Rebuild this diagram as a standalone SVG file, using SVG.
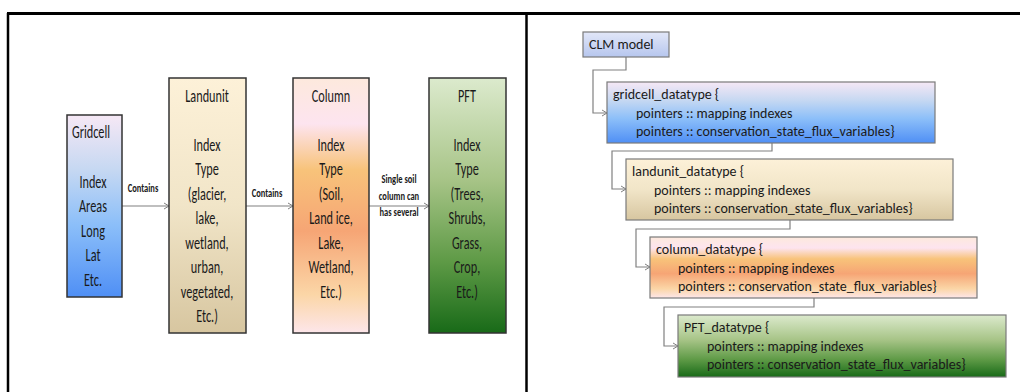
<svg xmlns="http://www.w3.org/2000/svg" width="1020" height="392" viewBox="0 0 1020 392">
<style>
.t{font-family:Carlito,"Liberation Sans",sans-serif;font-size:14px;fill:#1a1a1a}
.L{font-family:Carlito,"Liberation Sans",sans-serif;font-size:18px;fill:#1a1a1a;text-anchor:middle}
.s{font-family:Carlito,"Liberation Sans",sans-serif;font-size:12.5px;font-weight:bold;fill:#1a1a1a;text-anchor:middle}
.bx{stroke:#333;stroke-width:1.5}
.rb{stroke:#7a7a7a;stroke-width:1.2}
.c{fill:none;stroke:#808080;stroke-width:1.2}
</style>
<defs>
<marker id="ar" markerWidth="8" markerHeight="8" refX="6" refY="4" orient="auto" markerUnits="userSpaceOnUse">
<path d="M1,1 L6,4 L1,7" fill="none" stroke="#808080" stroke-width="1"/>
</marker>
<linearGradient id="gB" x1="0" y1="0" x2="0" y2="1">
<stop offset="0" stop-color="#f6e8f5"/><stop offset="0.3" stop-color="#c6d8f2"/><stop offset="0.6" stop-color="#8cbff9"/><stop offset="1" stop-color="#4f8ff5"/>
</linearGradient>
<linearGradient id="gT" x1="0" y1="0" x2="0" y2="1">
<stop offset="0" stop-color="#fdf1d8"/><stop offset="0.5" stop-color="#f1e5c8"/><stop offset="1" stop-color="#d7c6a0"/>
</linearGradient>
<linearGradient id="gO" x1="0" y1="0" x2="0" y2="1">
<stop offset="0" stop-color="#fde9dd"/><stop offset="0.18" stop-color="#fde4ef"/><stop offset="0.36" stop-color="#f8c37a"/><stop offset="0.6" stop-color="#f6a575"/><stop offset="0.85" stop-color="#fbd6a7"/><stop offset="1" stop-color="#fde6ea"/>
</linearGradient>
<linearGradient id="gG" x1="0" y1="0" x2="0" y2="1">
<stop offset="0" stop-color="#dceacd"/><stop offset="0.4" stop-color="#a7c487"/><stop offset="0.72" stop-color="#5e9a46"/><stop offset="1" stop-color="#186a18"/>
</linearGradient>
<linearGradient id="gC" x1="0" y1="0" x2="0" y2="1">
<stop offset="0" stop-color="#e2e7f8"/><stop offset="1" stop-color="#b6c6ee"/>
</linearGradient>
</defs>
<rect width="1020" height="392" fill="#fff"/>
<g id="frame">
<line x1="7" y1="13.5" x2="1020" y2="13.5" stroke="#000" stroke-width="3"/>
<line x1="8" y1="13" x2="8" y2="392" stroke="#000" stroke-width="2.5"/>
<line x1="526.5" y1="13" x2="526.5" y2="392" stroke="#000" stroke-width="2.5"/>
</g>
<g id="connectors">
<line class="c" x1="122" y1="206" x2="169" y2="206" marker-end="url(#ar)"/>
<line class="c" x1="246" y1="206" x2="293" y2="206" marker-end="url(#ar)"/>
<line class="c" x1="369" y1="206" x2="429" y2="206" marker-end="url(#ar)"/>
<polyline class="c" points="626,57 626,70 593,70 593,113 607,113" marker-end="url(#ar)"/>
<polyline class="c" points="772,143 772,151 612,151 612,189 626,189" marker-end="url(#ar)"/>
<polyline class="c" points="790,220 790,229 636,229 636,267 650,267" marker-end="url(#ar)"/>
<polyline class="c" points="814,298 814,307 664,307 664,346 678,346" marker-end="url(#ar)"/>
<g transform="translate(143,0) scale(0.68,1)"><text class="s" x="0" y="192">Contains</text></g>
<g transform="translate(267,0) scale(0.68,1)"><text class="s" x="0" y="197">Contains</text></g>
<g transform="translate(399,0) scale(0.68,1)">
<text class="s" x="0" y="183">Single soil</text>
<text class="s" x="0" y="200">column can</text>
<text class="s" x="0" y="216">has several</text>
</g>
</g>
<g id="gridcell">
<rect class="bx" x="67" y="115" width="55" height="182" fill="url(#gB)"/>
<g transform="translate(93,0) scale(0.68,1)">
<text class="L" x="-3" y="138">Gridcell</text>
<text class="L" x="0" y="188">Index</text>
<text class="L" x="0" y="212.5">Areas</text>
<text class="L" x="0" y="237">Long</text>
<text class="L" x="0" y="261.5">Lat</text>
<text class="L" x="0" y="286">Etc.</text>
</g>
</g>
<g id="landunit">
<rect class="bx" x="169" y="78" width="77" height="255" fill="url(#gT)"/>
<g transform="translate(207,0) scale(0.68,1)">
<text class="L" x="0" y="102">Landunit</text>
<text class="L" x="0" y="151">Index</text>
<text class="L" x="0" y="175.5">Type</text>
<text class="L" x="0" y="200">(glacier,</text>
<text class="L" x="0" y="224.5">lake,</text>
<text class="L" x="0" y="249">wetland,</text>
<text class="L" x="0" y="273.5">urban,</text>
<text class="L" x="0" y="298">vegetated,</text>
<text class="L" x="0" y="322.5">Etc.)</text>
</g>
</g>
<g id="column">
<rect class="bx" x="293" y="78" width="76" height="255" fill="url(#gO)"/>
<g transform="translate(331,0) scale(0.68,1)">
<text class="L" x="0" y="102">Column</text>
<text class="L" x="0" y="151">Index</text>
<text class="L" x="0" y="175.5">Type</text>
<text class="L" x="0" y="200">(Soil,</text>
<text class="L" x="0" y="224.5">Land ice,</text>
<text class="L" x="0" y="249">Lake,</text>
<text class="L" x="0" y="273.5">Wetland,</text>
<text class="L" x="0" y="298">Etc.)</text>
</g>
</g>
<g id="pft">
<rect class="bx" x="429" y="78" width="77" height="255" fill="url(#gG)"/>
<g transform="translate(467,0) scale(0.68,1)">
<text class="L" x="0" y="102">PFT</text>
<text class="L" x="0" y="151">Index</text>
<text class="L" x="0" y="175.5">Type</text>
<text class="L" x="0" y="200">(Trees,</text>
<text class="L" x="0" y="224.5">Shrubs,</text>
<text class="L" x="0" y="249">Grass,</text>
<text class="L" x="0" y="273.5">Crop,</text>
<text class="L" x="0" y="298">Etc.)</text>
</g>
</g>
<g id="clm_model">
<rect class="rb" x="583" y="32" width="86" height="25" fill="url(#gC)"/>
<text class="t" x="589" y="49">CLM model</text>
</g>
<g id="gridcell_datatype">
<rect class="rb" x="607" y="82" width="328" height="61" fill="url(#gB)"/>
<text class="t" x="613" y="99">gridcell_datatype {</text>
<text class="t" x="636" y="118">pointers :: mapping indexes</text>
<text class="t" x="636" y="136">pointers :: conservation_state_flux_variables}</text>
</g>
<g id="landunit_datatype">
<rect class="rb" x="626" y="159" width="327" height="61" fill="url(#gT)"/>
<text class="t" x="632" y="176">landunit_datatype {</text>
<text class="t" x="654" y="195">pointers :: mapping indexes</text>
<text class="t" x="654" y="213">pointers :: conservation_state_flux_variables}</text>
</g>
<g id="column_datatype">
<rect class="rb" x="650" y="237" width="327" height="61" fill="url(#gO)"/>
<text class="t" x="656" y="254">column_datatype {</text>
<text class="t" x="678" y="273">pointers :: mapping indexes</text>
<text class="t" x="678" y="291">pointers :: conservation_state_flux_variables}</text>
</g>
<g id="pft_datatype">
<rect class="rb" x="678" y="315" width="328" height="62" fill="url(#gG)"/>
<text class="t" x="684" y="332">PFT_datatype {</text>
<text class="t" x="707" y="351">pointers :: mapping indexes</text>
<text class="t" x="707" y="369">pointers :: conservation_state_flux_variables}</text>
</g>
</svg>
